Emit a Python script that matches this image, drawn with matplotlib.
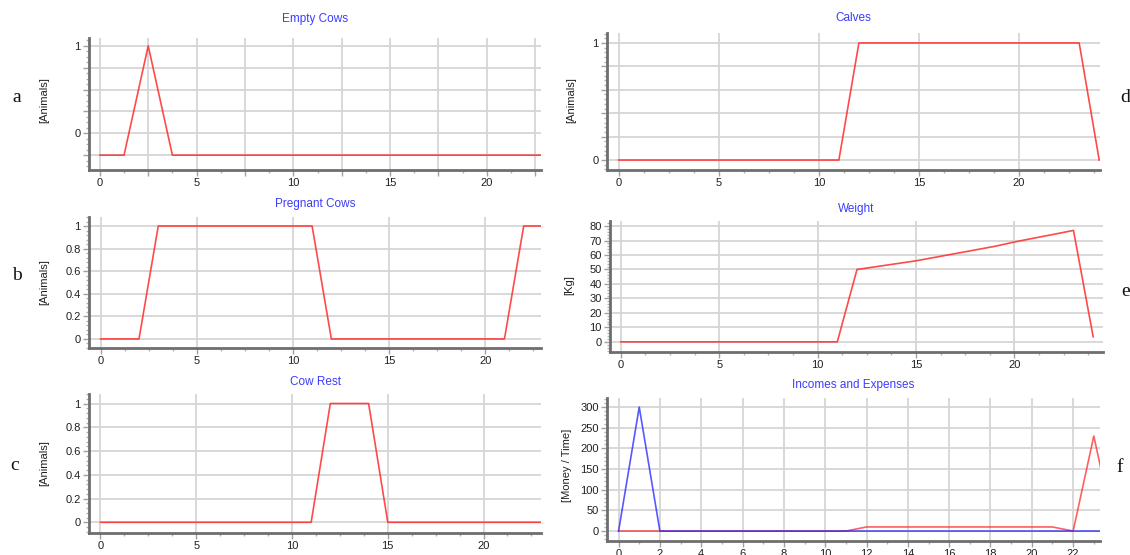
import matplotlib
matplotlib.use("Agg")
import matplotlib.pyplot as plt
import numpy as np
from matplotlib.ticker import MultipleLocator

# ---- data ----
t_empty = [0, 1.25, 2.5, 3.75, 23]
empty_cows = [-0.25, -0.25, 1, -0.25, -0.25]

t_preg = list(range(0, 24))
pregnant_cows = [0, 0, 0, 1, 1, 1, 1, 1, 1, 1, 1, 1, 0, 0, 0, 0, 0, 0, 0, 0, 0, 0, 1, 1]

t_rest = list(range(0, 24))
cow_rest = [0, 0, 0, 0, 0, 0, 0, 0, 0, 0, 0, 0, 1, 1, 1, 0, 0, 0, 0, 0, 0, 0, 0, 0]

t_calves = list(range(0, 25))
calves = [0, 0, 0, 0, 0, 0, 0, 0, 0, 0, 0, 0, 1, 1, 1, 1, 1, 1, 1, 1, 1, 1, 1, 1, 0]

t_weight = list(range(0, 25))
weight = [0, 0, 0, 0, 0, 0, 0, 0, 0, 0, 0, 0,
          50, 52, 54, 56, 58.5, 61, 63.5, 66, 69, 71.7, 74.3, 77, 3.5]

t_money = list(range(0, 25))
incomes = [0, 0, 0, 0, 0, 0, 0, 0, 0, 0, 0, 0,
           10, 10, 10, 10, 10, 10, 10, 10, 10, 10, 0, 230, 0]
expenses = [0, 300, 0, 0, 0, 0, 0, 0, 0, 0, 0, 0,
            0, 0, 0, 0, 0, 0, 0, 0, 0, 0, 0, 0, 0]

W, H = 1130, 555
fig = plt.figure(figsize=(W / 100, H / 100), dpi=100)

RED = "#ff2a2a"
BLUE = "#2020ff"
TITLE_C = "#3c3cff"
GRID_C = "#d6d6d6"
SPINE_C = "#6e6e6e"
TICK_FONT = "Liberation Sans"


def make_axes(left, top, right, bottom):
    # pixel box -> figure fraction
    return fig.add_axes([left / W, 1 - bottom / H, (right - left) / W, (bottom - top) / H])


def style(ax, xlim, ylim, xgrid, xlabels, ygrid, ylabels, xminor, yminor):
    ax.set_xlim(*xlim)
    ax.set_ylim(*ylim)
    ax.set_xticks(xgrid)
    ax.set_xticklabels([str(l) for l in xlabels])
    ax.set_yticks(ygrid)
    ax.set_yticklabels([str(l) for l in ylabels])
    ax.xaxis.set_minor_locator(MultipleLocator(xminor))
    ax.yaxis.set_minor_locator(MultipleLocator(yminor))
    ax.grid(True, which="major", color=GRID_C, lw=1.3)
    ax.set_axisbelow(True)
    for s in ["top", "right"]:
        ax.spines[s].set_visible(False)
    for s in ["left", "bottom"]:
        ax.spines[s].set_color(SPINE_C)
        ax.spines[s].set_linewidth(2)
    ax.tick_params(which="major", length=4, width=1, color="#a0a0a0",
                   labelsize=8, labelcolor="#202020", pad=2)
    ax.tick_params(which="minor", length=2.5, width=1, color="#b0b0b0")
    for lab in ax.get_xticklabels() + ax.get_yticklabels():
        lab.set_family(TICK_FONT)
    ax.set_facecolor("white")


def title(ax, text, y):
    b = ax.get_position()
    fig.text((b.x0 + b.x1) / 2, 1 - y / H, text, ha="center", va="center",
             fontsize=8.5, color=TITLE_C, family=TICK_FONT)


def ylab(text, x, y):
    fig.text(x / W, 1 - y / H, text, rotation=90, ha="center", va="center",
             fontsize=8, color="#202020", family=TICK_FONT)


def letter(text, x, y):
    fig.text(x / W, 1 - y / H, text, ha="center", va="center",
             fontsize=14, color="#111111", family="Liberation Serif")


# a - Empty Cows
ax = make_axes(89, 38, 541, 170)
ax.plot(t_empty, empty_cows, color=RED, lw=1.2, alpha=0.85)
style(ax, (-0.56, 22.8), (-0.42, 1.09),
      np.arange(0, 23, 2.5), ["0", "", "5", "", "10", "", "15", "", "20", ""],
      [-0.25, 0, 0.25, 0.5, 0.75, 1], ["", "0", "", "", "", "1"], 1.25, 0.0625)
title(ax, "Empty Cows", 19)
ylab("[Animals]", 44, 100)
letter("a", 17, 97)

# b - Pregnant Cows
ax = make_axes(89, 217, 541, 348)
ax.plot(t_preg, pregnant_cows, color=RED, lw=1.2, alpha=0.85)
style(ax, (-0.6, 22.9), (-0.08, 1.08),
      [0, 5, 10, 15, 20], [0, 5, 10, 15, 20],
      [0, 0.2, 0.4, 0.6, 0.8, 1], ["0", "0.2", "0.4", "0.6", "0.8", "1"], 1.25, 0.04)
title(ax, "Pregnant Cows", 204)
ylab("[Animals]", 44, 282)
letter("b", 17, 276)

# c - Cow Rest
ax = make_axes(89, 394, 541, 533)
ax.plot(t_rest, cow_rest, color=RED, lw=1.2, alpha=0.85)
style(ax, (-0.6, 23.0), (-0.09, 1.08),
      [0, 5, 10, 15, 20], [0, 5, 10, 15, 20],
      [0, 0.2, 0.4, 0.6, 0.8, 1], ["0", "0.2", "0.4", "0.6", "0.8", "1"], 1.25, 0.04)
title(ax, "Cow Rest", 382)
ylab("[Animals]", 44, 463)
letter("c", 15, 466)

# d - Calves
ax = make_axes(607, 33, 1100, 170)
ax.plot(t_calves, calves, color=RED, lw=1.2, alpha=0.85)
style(ax, (-0.58, 24.04), (-0.085, 1.085),
      [0, 5, 10, 15, 20], [0, 5, 10, 15, 20],
      [0, 0.2, 0.4, 0.6, 0.8, 1], ["0", "", "", "", "", "1"], 1.25, 0.04)
title(ax, "Calves", 18)
ylab("[Animals]", 571, 100)
letter("d", 1125, 97)

# e - Weight
ax = make_axes(610, 221, 1103, 352)
ax.plot(t_weight, weight, color=RED, lw=1.2, alpha=0.85)
style(ax, (-0.55, 24.5), (-7, 83.5),
      [0, 5, 10, 15, 20], [0, 5, 10, 15, 20],
      list(range(0, 81, 10)), list(range(0, 81, 10)), 1.25, 2)
title(ax, "Weight", 209)
ylab("[Kg]", 569, 285)
letter("e", 1126, 292)

# f - Incomes and Expenses (x labels are cut by the bottom edge, as in the source)
ax = make_axes(607, 398, 1100, 541)
ax.plot(t_money, incomes, color=RED, lw=1.2, alpha=0.75)
ax.plot(t_money, expenses, color=BLUE, lw=1.2, alpha=0.75)
style(ax, (-0.56, 23.3), (-24, 322),
      list(range(0, 23, 2)), list(range(0, 23, 2)),
      list(range(0, 301, 50)), list(range(0, 301, 50)), 1, 10)
title(ax, "Incomes and Expenses", 385)
ylab("[Money / Time]", 567, 465)
letter("f", 1120, 467)

fig.savefig("out.png", dpi=100, facecolor="white")
